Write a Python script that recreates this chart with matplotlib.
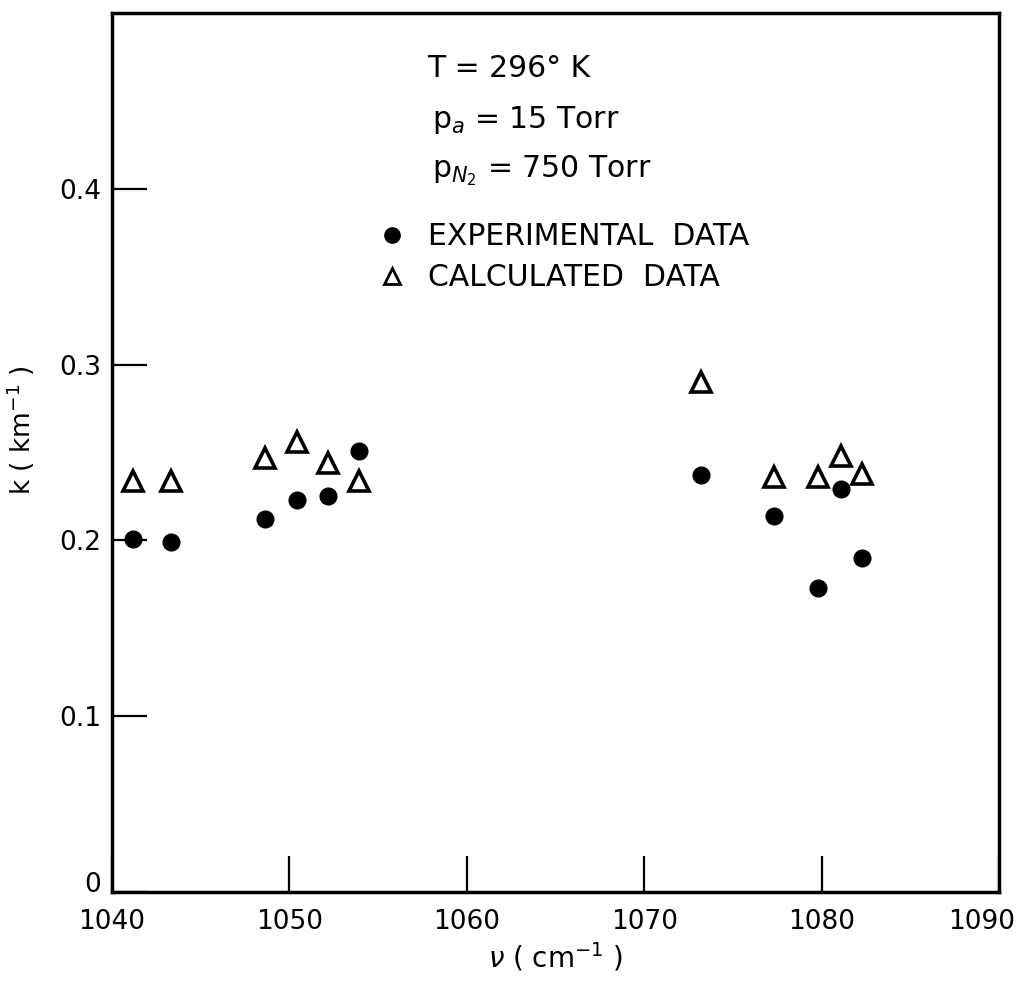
import matplotlib

matplotlib.use("Agg")
import matplotlib.pyplot as plt
import matplotlib.transforms as mtransforms
from matplotlib.lines import Line2D

# wavenumber (cm^-1) for each measurement
wavenumber = [1041.2, 1043.3, 1048.6, 1050.4, 1052.2, 1053.9,
              1073.2, 1077.3, 1079.8, 1081.1, 1082.3]
k_experimental = [0.201, 0.199, 0.212, 0.223, 0.225, 0.251,
                  0.237, 0.214, 0.173, 0.229, 0.190]
k_calculated = [0.234, 0.234, 0.247, 0.256, 0.244, 0.234,
                0.290, 0.236, 0.236, 0.248, 0.238]

x_ticks = [1040, 1050, 1060, 1070, 1080, 1090]
y_ticks = [0, 0.1, 0.2, 0.3, 0.4]
y_tick_labels = ["0", "0.1", "0.2", "0.3", "0.4"]

plt.rcParams["font.family"] = ["DejaVu Sans"]

fig = plt.figure(figsize=(10.21, 9.82), dpi=100)
ax = fig.add_axes([0.1097, 0.0916, 0.8688, 0.8952])

ax.plot(wavenumber, k_experimental, "o", color="black", markersize=12, linestyle="none")
ax.plot(wavenumber, k_calculated, "^", markerfacecolor="white", markeredgecolor="black",
        markeredgewidth=2.6, markersize=14, linestyle="none")

ax.set_xlim(1040, 1090)
ax.set_ylim(0, 0.5)
ax.set_xticks(x_ticks)
ax.set_yticks(y_ticks)
ax.set_yticklabels(y_tick_labels)
ax.tick_params(direction="in", width=1.6, labelsize=19)
ax.tick_params(axis="x", length=26, pad=12)
ax.tick_params(axis="y", length=25, pad=8)

for spine in ax.spines.values():
    spine.set_linewidth(2.5)

# nudge the corner labels like the hand-lettered original
last_x = ax.get_xticklabels()[-1]
last_x.set_transform(last_x.get_transform() + mtransforms.ScaledTranslation(-17 / 100, 0, fig.dpi_scale_trans))
first_y = ax.get_yticklabels()[0]
first_y.set_transform(first_y.get_transform() + mtransforms.ScaledTranslation(0, 10 / 100, fig.dpi_scale_trans))

ax.set_xlabel(r"$\nu$ ( cm$^{-1}$ )", fontsize=20, labelpad=4)
ax.set_ylabel(r"k ( km$^{-1}$ )", fontsize=19)
ax.yaxis.set_label_coords(-0.085, 0.526)

txt = dict(transform=ax.transAxes, fontsize=21.5, va="baseline", ha="left")
ax.text(0.355, 0.927, "T = 296° K", **txt)
ax.text(0.361, 0.869, r"p$_a$ = 15 Torr", **txt)
ax.text(0.361, 0.813, r"p$_{N_2}$ = 750 Torr", **txt)

handles = [
    Line2D([], [], marker="o", color="black", linestyle="none", markersize=11),
    Line2D([], [], marker="^", markerfacecolor="white", markeredgecolor="black",
           markeredgewidth=2, markersize=12, linestyle="none"),
]
ax.legend(handles, ["EXPERIMENTAL  DATA", "CALCULATED  DATA"], loc="upper left",
          bbox_to_anchor=(0.2988, 0.762), frameon=False, fontsize=21.5,
          borderpad=0, borderaxespad=0, handletextpad=0.7, handlelength=1.0,
          labelspacing=0.4)

fig.savefig("out.png", dpi=100)
